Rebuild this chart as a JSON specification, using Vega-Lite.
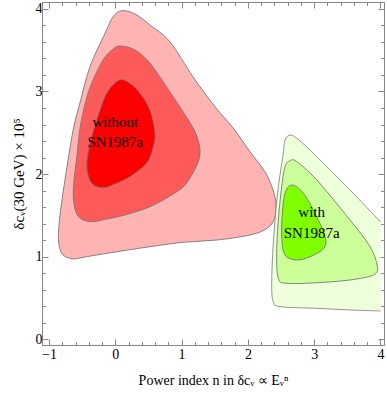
{
  "$schema": "https://vega.github.io/schema/vega-lite/v6.json",
  "width": 342,
  "height": 343,
  "autosize": {"type": "none"},
  "padding": {"left": 42, "top": 2, "right": 3, "bottom": 52},
  "config": {"view": {"stroke": "#888", "strokeWidth": 1}, "font": "Liberation Serif"},
  "datasets": {
    "contours": [
      {"c":"r1","i":0,"x":0.097,"y":3.978},{"c":"r1","i":1,"x":0.297,"y":3.938},{"c":"r1","i":2,"x":0.523,"y":3.805},{"c":"r1","i":3,"x":0.825,"y":3.600},{"c":"r1","i":4,"x":1.172,"y":3.177},{"c":"r1","i":5,"x":1.504,"y":2.814},{"c":"r1","i":6,"x":1.775,"y":2.560},{"c":"r1","i":7,"x":2.032,"y":2.270},{"c":"r1","i":8,"x":2.258,"y":2.026},{"c":"r1","i":9,"x":2.379,"y":1.808},{"c":"r1","i":10,"x":2.424,"y":1.626},{"c":"r1","i":11,"x":2.394,"y":1.445},{"c":"r1","i":12,"x":2.273,"y":1.336},{"c":"r1","i":13,"x":2.032,"y":1.263},{"c":"r1","i":14,"x":1.534,"y":1.202},{"c":"r1","i":15,"x":1.021,"y":1.174},{"c":"r1","i":16,"x":0.523,"y":1.121},{"c":"r1","i":17,"x":-0.125,"y":1.041},{"c":"r1","i":18,"x":-0.457,"y":0.996},{"c":"r1","i":19,"x":-0.633,"y":0.973},{"c":"r1","i":20,"x":-0.789,"y":1.021},{"c":"r1","i":21,"x":-0.849,"y":1.142},{"c":"r1","i":22,"x":-0.857,"y":1.299},{"c":"r1","i":23,"x":-0.825,"y":1.565},{"c":"r1","i":24,"x":-0.775,"y":1.850},{"c":"r1","i":25,"x":-0.712,"y":2.171},{"c":"r1","i":26,"x":-0.630,"y":2.558},{"c":"r1","i":27,"x":-0.522,"y":2.897},{"c":"r1","i":28,"x":-0.382,"y":3.300},{"c":"r1","i":29,"x":-0.155,"y":3.705},{"c":"r1","i":30,"x":-0.035,"y":3.902},
      {"c":"r2","i":0,"x":0.071,"y":3.551},{"c":"r2","i":1,"x":0.297,"y":3.502},{"c":"r2","i":2,"x":0.523,"y":3.341},{"c":"r2","i":3,"x":0.825,"y":2.994},{"c":"r2","i":4,"x":1.052,"y":2.716},{"c":"r2","i":5,"x":1.176,"y":2.554},{"c":"r2","i":6,"x":1.247,"y":2.414},{"c":"r2","i":7,"x":1.278,"y":2.268},{"c":"r2","i":8,"x":1.232,"y":2.111},{"c":"r2","i":9,"x":1.052,"y":1.869},{"c":"r2","i":10,"x":0.825,"y":1.736},{"c":"r2","i":11,"x":0.523,"y":1.605},{"c":"r2","i":12,"x":0.146,"y":1.505},{"c":"r2","i":13,"x":-0.130,"y":1.456},{"c":"r2","i":14,"x":-0.382,"y":1.424},{"c":"r2","i":15,"x":-0.563,"y":1.493},{"c":"r2","i":16,"x":-0.630,"y":1.686},{"c":"r2","i":17,"x":-0.623,"y":1.929},{"c":"r2","i":18,"x":-0.582,"y":2.195},{"c":"r2","i":19,"x":-0.532,"y":2.558},{"c":"r2","i":20,"x":-0.442,"y":2.897},{"c":"r2","i":21,"x":-0.336,"y":3.139},{"c":"r2","i":22,"x":-0.186,"y":3.381},{"c":"r2","i":23,"x":-0.050,"y":3.502},
      {"c":"r3","i":0,"x":0.060,"y":3.139},{"c":"r3","i":1,"x":0.222,"y":3.099},{"c":"r3","i":2,"x":0.373,"y":2.978},{"c":"r3","i":3,"x":0.523,"y":2.776},{"c":"r3","i":4,"x":0.599,"y":2.494},{"c":"r3","i":5,"x":0.573,"y":2.332},{"c":"r3","i":6,"x":0.474,"y":2.131},{"c":"r3","i":7,"x":0.222,"y":1.969},{"c":"r3","i":8,"x":-0.005,"y":1.880},{"c":"r3","i":9,"x":-0.181,"y":1.835},{"c":"r3","i":10,"x":-0.356,"y":1.889},{"c":"r3","i":11,"x":-0.431,"y":2.090},{"c":"r3","i":12,"x":-0.382,"y":2.373},{"c":"r3","i":13,"x":-0.281,"y":2.655},{"c":"r3","i":14,"x":-0.130,"y":2.978},
      {"c":"g1","i":0,"x":4.0,"y":1.420},{"c":"g1","i":1,"x":3.540,"y":1.808},{"c":"g1","i":2,"x":3.038,"y":2.211},{"c":"g1","i":3,"x":2.786,"y":2.401},{"c":"g1","i":4,"x":2.646,"y":2.473},{"c":"g1","i":5,"x":2.560,"y":2.413},{"c":"g1","i":6,"x":2.534,"y":2.252},{"c":"g1","i":7,"x":2.459,"y":1.847},{"c":"g1","i":8,"x":2.409,"y":1.444},{"c":"g1","i":9,"x":2.374,"y":1.041},{"c":"g1","i":10,"x":2.359,"y":0.637},{"c":"g1","i":11,"x":2.383,"y":0.455},{"c":"g1","i":12,"x":2.484,"y":0.395},{"c":"g1","i":13,"x":3.038,"y":0.375},{"c":"g1","i":14,"x":3.540,"y":0.355},{"c":"g1","i":15,"x":4.0,"y":0.343},
      {"c":"g2","i":0,"x":2.635,"y":2.162},{"c":"g2","i":1,"x":2.736,"y":2.150},{"c":"g2","i":2,"x":3.038,"y":1.929},{"c":"g2","i":3,"x":3.540,"y":1.444},{"c":"g2","i":4,"x":3.842,"y":1.121},{"c":"g2","i":5,"x":3.952,"y":0.879},{"c":"g2","i":6,"x":3.891,"y":0.778},{"c":"g2","i":7,"x":3.540,"y":0.718},{"c":"g2","i":8,"x":3.038,"y":0.685},{"c":"g2","i":9,"x":2.585,"y":0.678},{"c":"g2","i":10,"x":2.459,"y":0.738},{"c":"g2","i":11,"x":2.434,"y":1.041},{"c":"g2","i":12,"x":2.459,"y":1.444},{"c":"g2","i":13,"x":2.510,"y":1.847},{"c":"g2","i":14,"x":2.560,"y":2.090},
      {"c":"g3","i":0,"x":2.661,"y":1.868},{"c":"g3","i":1,"x":2.836,"y":1.768},{"c":"g3","i":2,"x":3.038,"y":1.484},{"c":"g3","i":3,"x":3.163,"y":1.242},{"c":"g3","i":4,"x":3.148,"y":1.102},{"c":"g3","i":5,"x":2.937,"y":1.000},{"c":"g3","i":6,"x":2.736,"y":0.960},{"c":"g3","i":7,"x":2.560,"y":1.021},{"c":"g3","i":8,"x":2.510,"y":1.242},{"c":"g3","i":9,"x":2.519,"y":1.525},{"c":"g3","i":10,"x":2.560,"y":1.768}
    ],
    "labels": [
      {"t":"without","x":0.0,"y":2.634},
      {"t":"SN1987a","x":0.0,"y":2.392},
      {"t":"with","x":2.962,"y":1.545},
      {"t":"SN1987a","x":2.962,"y":1.291}
    ]
  },
  "layer": [
    {
      "data": {"name": "contours"},
      "encoding": {
        "x": {"field": "x", "type": "quantitative", "scale": {"domain": [-1.106, 4.053], "nice": false, "zero": false},
          "axis": {"orient": "bottom", "values": [-1,-0.8,-0.6,-0.4,-0.2,0,0.2,0.4,0.6,0.8,1,1.2,1.4,1.6,1.8,2,2.2,2.4,2.6,2.8,3,3.2,3.4,3.6,3.8,4],
            "labelExpr": "datum.value % 1 == 0 ? format(datum.value, 'd') : ''",
            "tickSize": {"condition": {"test": "datum.value % 1 == 0", "value": -6}, "value": -3.5},
            "tickColor": "#888", "domainColor": "#888", "grid": false, "labelFlush": false, "labelOverlap": false,
            "labelFont": "Liberation Serif", "labelFontSize": 14, "labelColor": "black", "labelPadding": 8,
            "title": "Power index n in δcᵥ ∝ Eᵥⁿ", "titleFont": "Liberation Serif", "titleFontSize": 14, "titleFontWeight": "normal", "titleColor": "black", "titlePadding": 10}},
        "y": {"field": "y", "type": "quantitative", "scale": {"domain": [-0.069, 4.083], "nice": false, "zero": false},
          "axis": {"orient": "left", "values": [0,0.2,0.4,0.6,0.8,1,1.2,1.4,1.6,1.8,2,2.2,2.4,2.6,2.8,3,3.2,3.4,3.6,3.8,4],
            "labelExpr": "datum.value % 1 == 0 ? format(datum.value, 'd') : ''",
            "tickSize": {"condition": {"test": "datum.value % 1 == 0", "value": -6}, "value": -3.5},
            "tickColor": "#888", "domainColor": "#888", "grid": false, "labelFlush": false, "labelOverlap": false,
            "labelFont": "Liberation Serif", "labelFontSize": 14, "labelColor": "black", "labelPadding": 6,
            "title": "δcᵥ(30 GeV) × 10⁵", "titleFont": "Liberation Serif", "titleFontSize": 15, "titleFontWeight": "normal", "titleColor": "black", "titlePadding": 9}},
        "order": {"field": "i", "type": "quantitative"}
      },
      "layer": [
        {"transform": [{"filter": "datum.c == 'r1'"}], "mark": {"type": "line", "fill": "#FFB3B3", "stroke": "#777", "strokeWidth": 0.9, "interpolate": "cardinal-closed"}},
        {"transform": [{"filter": "datum.c == 'r2'"}], "mark": {"type": "line", "fill": "#FF5A5A", "stroke": "#777", "strokeWidth": 0.9, "interpolate": "cardinal-closed"}},
        {"transform": [{"filter": "datum.c == 'r3'"}], "mark": {"type": "line", "fill": "#FF0000", "stroke": "#777", "strokeWidth": 0.9, "interpolate": "cardinal-closed"}},
        {"transform": [{"filter": "datum.c == 'g1'"}], "mark": {"type": "line", "fill": "#EDFFDB", "stroke": "#888", "strokeWidth": 0.9, "interpolate": "cardinal"}},
        {"transform": [{"filter": "datum.c == 'g2'"}], "mark": {"type": "line", "fill": "#CCFF99", "stroke": "#777", "strokeWidth": 0.9, "interpolate": "cardinal-closed"}},
        {"transform": [{"filter": "datum.c == 'g3'"}], "mark": {"type": "line", "fill": "#80FF00", "stroke": "#777", "strokeWidth": 0.9, "interpolate": "cardinal-closed"}}
      ]
    },
    {
      "data": {"name": "labels"},
      "mark": {"type": "text", "font": "Liberation Serif", "fontSize": 15, "color": "black", "baseline": "middle", "align": "center"},
      "encoding": {
        "x": {"field": "x", "type": "quantitative", "scale": {"domain": [-1.106, 4.053], "nice": false, "zero": false},
          "axis": {"orient": "top", "values": [-1,-0.8,-0.6,-0.4,-0.2,0,0.2,0.4,0.6,0.8,1,1.2,1.4,1.6,1.8,2,2.2,2.4,2.6,2.8,3,3.2,3.4,3.6,3.8,4],
            "labels": false, "title": null, "grid": false,
            "tickSize": {"condition": {"test": "datum.value % 1 == 0", "value": -6}, "value": -3.5},
            "tickColor": "#888", "domainColor": "#888"}},
        "y": {"field": "y", "type": "quantitative", "scale": {"domain": [-0.069, 4.083], "nice": false, "zero": false},
          "axis": {"orient": "right", "values": [0,0.2,0.4,0.6,0.8,1,1.2,1.4,1.6,1.8,2,2.2,2.4,2.6,2.8,3,3.2,3.4,3.6,3.8,4],
            "labels": false, "title": null, "grid": false,
            "tickSize": {"condition": {"test": "datum.value % 1 == 0", "value": -6}, "value": -3.5},
            "tickColor": "#888", "domainColor": "#888"}},
        "text": {"field": "t", "type": "nominal"}
      }
    }
  ],
  "resolve": {"axis": {"x": "independent", "y": "independent"}}
}
